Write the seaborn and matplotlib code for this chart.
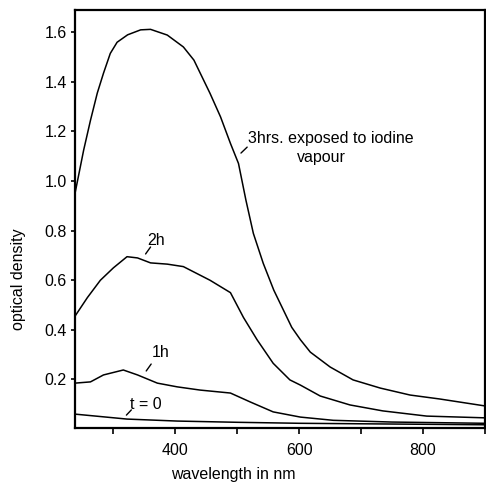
import numpy as np
import pandas as pd
import seaborn as sns
import matplotlib.pyplot as plt
from matplotlib.ticker import MultipleLocator, FixedLocator

# curves (wavelength in nm, optical density)
wl_3h = [238, 242, 252, 263, 274, 284, 295, 306, 323, 344, 360, 387, 413, 430, 456, 473,
         489, 502, 514, 526, 542, 559, 588, 602, 618, 650, 687, 731, 779, 827, 900]
od_3h = [0.95, 1.00, 1.125, 1.245, 1.355, 1.435, 1.515, 1.56, 1.59, 1.61, 1.612, 1.589,
         1.541, 1.488, 1.354, 1.259, 1.152, 1.071, 0.923, 0.789, 0.668, 0.56, 0.41, 0.36,
         0.31, 0.25, 0.198, 0.165, 0.137, 0.121, 0.093]

wl_2h = [238, 258, 279, 300, 322, 339, 360, 387, 413, 456, 489, 510, 532, 558, 585, 602,
         634, 682, 735, 806, 900]
od_2h = [0.455, 0.53, 0.60, 0.65, 0.695, 0.69, 0.67, 0.665, 0.655, 0.60, 0.55, 0.45, 0.36,
         0.265, 0.198, 0.177, 0.133, 0.097, 0.073, 0.052, 0.045]

wl_1h = [238, 263, 284, 316, 339, 371, 403, 440, 489, 521, 558, 602, 655, 750, 900]
od_1h = [0.185, 0.19, 0.218, 0.238, 0.218, 0.185, 0.17, 0.157, 0.145, 0.109, 0.069, 0.048,
         0.035, 0.028, 0.023]

wl_t0 = [238, 322, 403, 500, 600, 750, 900]
od_t0 = [0.06, 0.04, 0.032, 0.027, 0.023, 0.02, 0.017]

y_ticks = [0.2, 0.4, 0.6, 0.8, 1.0, 1.2, 1.4, 1.6]
x_ticks = [400, 600, 800]

sns.set_style("ticks")
plt.rcParams['font.family'] = ['Liberation Sans', 'DejaVu Sans']

fig = plt.figure(figsize=(4.86, 4.84), dpi=100)
ax = fig.add_axes([0.1543, 0.1157, 0.8436, 0.8636])

for wl, od in [(wl_3h, od_3h), (wl_2h, od_2h), (wl_1h, od_1h), (wl_t0, od_t0)]:
    sns.lineplot(x=wl, y=od, ax=ax, color='black', linewidth=1.1, sort=False)

ax.set_xlim(238, 900)
ax.set_ylim(0.004, 1.69)

ax.xaxis.set_major_locator(FixedLocator(x_ticks))
ax.xaxis.set_minor_locator(FixedLocator([300, 500, 700, 900]))
ax.set_yticks(y_ticks)
ax.set_yticklabels([f"{v:.1f}" for v in y_ticks])
ax.tick_params(axis='both', which='both', direction='out', width=1.2, color='black',
               labelsize=11.5, labelcolor='black')
ax.tick_params(axis='x', which='both', length=4, pad=7)
ax.tick_params(axis='y', length=3, pad=3)

for s in ax.spines.values():
    s.set_linewidth(1.6)
    s.set_color('black')

ax.set_xlabel("wavelength in nm", fontsize=11.5, color='black')
ax.set_ylabel("optical density", fontsize=11.5, color='black')
ax.xaxis.set_label_coords(0.385, -0.093)
ax.yaxis.set_label_coords(-0.12, 0.355)

# curve labels with little pointer strokes
txt = dict(fontsize=11.5, color='black', va='center')
ax.text(518, 1.173, "3hrs. exposed to iodine", ha='left', **txt)
ax.text(597, 1.097, "vapour", ha='left', **txt)
ax.plot([506, 516], [1.113, 1.137], color='black', lw=1.0)

ax.text(369, 0.762, "2h", ha='center', **txt)
ax.plot([352, 360], [0.706, 0.734], color='black', lw=1.0)

ax.text(377, 0.31, "1h", ha='center', **txt)
ax.plot([353, 361], [0.234, 0.262], color='black', lw=1.0)

ax.text(353, 0.10, "t = 0", ha='center', **txt)
ax.plot([321, 329], [0.056, 0.077], color='black', lw=1.0)

fig.savefig("out.png", dpi=100)
